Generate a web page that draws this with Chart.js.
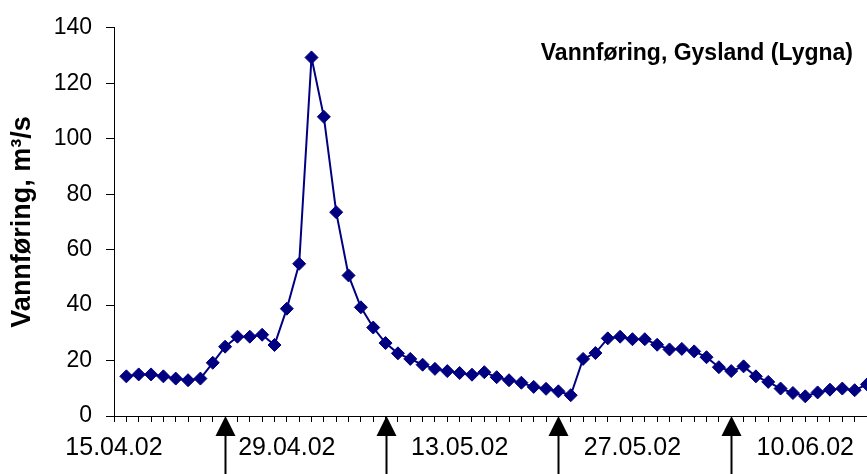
<!DOCTYPE html>
<html>
<head>
<meta charset="utf-8">
<script src="https://cdn.jsdelivr.net/npm/chart.js@4"></script>
<style>
  html, body { margin: 0; padding: 0; background: #fff; overflow: hidden; }
  #wrap { width: 867px; height: 474px; position: relative; }
</style>
</head>
<body>
<div id="wrap"><canvas id="c"></canvas></div>
<script>
// Days after 15.04.02 (day 0 = 15.04.02)
const days = [];
for (let d = 1; d <= 61; d++) days.push(d);
const flow = [
  14.3, 15.0, 15.0, 14.3, 13.5, 12.9, 13.5, 19.2, 25.0, 28.6,
  28.6, 29.3, 25.6, 38.7, 54.9, 129.3, 107.9, 73.5, 50.7, 39.2,
  31.9, 26.3, 22.6, 20.6, 18.5, 17.0, 16.2, 15.5, 14.9, 15.8,
  14.0, 12.9, 12.0, 10.5, 9.8, 8.9, 7.5, 20.6, 22.7, 28.0,
  28.6, 27.7, 27.7, 25.7, 24.0, 24.2, 23.3, 21.2, 17.6, 16.2,
  17.9, 14.3, 12.3, 9.9, 8.3, 7.1, 8.5, 9.5, 9.9, 9.3,
  11.4
];
const tickLabels = ["15.04.02", "29.04.02", "13.05.02", "27.05.02", "10.06.02"];
const labelEvery = 14;
const arrowDays = [9, 22, 36, 50];
const chartTitle = "Vannføring, Gysland (Lygna)";
const yTitle = "Vannføring, m³/s";

const points = days.map((d, i) => ({ x: d, y: flow[i] }));

const extras = {
  id: 'extras',
  afterDraw(chart) {
    const ctx = chart.ctx;
    const xs = chart.scales.x;
    const area = chart.chartArea;
    ctx.save();
    ctx.fillStyle = '#000';
    ctx.strokeStyle = '#000';
    ctx.lineWidth = 2;
    arrowDays.forEach(d => {
      const x = Math.round(xs.getPixelForValue(d)) + 0.5;
      const yb = area.bottom;
      ctx.beginPath();
      ctx.moveTo(x, yb);
      ctx.lineTo(x - 10, yb + 20);
      ctx.lineTo(x + 10, yb + 20);
      ctx.closePath();
      ctx.fill();
      ctx.beginPath();
      ctx.moveTo(x, yb + 18);
      ctx.lineTo(x, chart.height + 2);
      ctx.stroke();
    });
    ctx.font = 'bold 23px "Liberation Sans", Arial, sans-serif';
    ctx.textAlign = 'right';
    ctx.textBaseline = 'middle';
    ctx.fillStyle = '#000';
    ctx.fillText(chartTitle, area.right - 14, area.top + 26);
    ctx.restore();
  }
};

new Chart(document.getElementById('c'), {
  type: 'line',
  data: {
    datasets: [{
      data: points,
      borderColor: '#000080',
      backgroundColor: '#000080',
      borderWidth: 2,
      pointStyle: 'rectRot',
      pointRadius: 6.5,
      pointHoverRadius: 6.5,
      pointBorderWidth: 1,
      pointBorderColor: '#000080',
      tension: 0,
      clip: false
    }]
  },
  options: {
    responsive: true,
    maintainAspectRatio: false,
    animation: false,
    devicePixelRatio: 1,
    layout: { autoPadding: false, padding: { top: 24, right: 0, left: 0, bottom: 0 } },
    plugins: { legend: { display: false }, tooltip: { enabled: false }, title: { display: false } },
    scales: {
      x: {
        type: 'linear',
        min: 0,
        max: 61,
        afterFit(s) { s.height = 58; s.paddingRight = 0; },
        border: { display: true, color: '#000', width: 1 },
        grid: { display: true, drawOnChartArea: false, drawTicks: true, tickLength: 6, color: '#000' },
        ticks: {
          stepSize: 1,
          autoSkip: false,
          maxRotation: 0,
          padding: 11,
          color: '#000',
          font: { family: '"Liberation Sans", Arial, sans-serif', size: 25 },
          callback: (v) => (v % labelEvery === 0 ? (tickLabels[v / labelEvery] || '') : '')
        }
      },
      y: {
        min: 0,
        max: 140,
        afterFit(s) { s.width = 114; },
        border: { display: true, color: '#000', width: 1 },
        grid: { display: true, drawOnChartArea: false, drawTicks: true, tickLength: 8, color: '#000' },
        ticks: {
          stepSize: 20,
          padding: 14,
          color: '#000',
          font: { family: '"Liberation Sans", Arial, sans-serif', size: 23 }
        },
        title: {
          display: true,
          text: yTitle,
          color: '#000',
          padding: { top: 6, bottom: 0 },
          font: { family: '"Liberation Sans", Arial, sans-serif', size: 27, weight: 'bold' }
        }
      }
    }
  },
  plugins: [extras]
});
</script>
</body>
</html>
